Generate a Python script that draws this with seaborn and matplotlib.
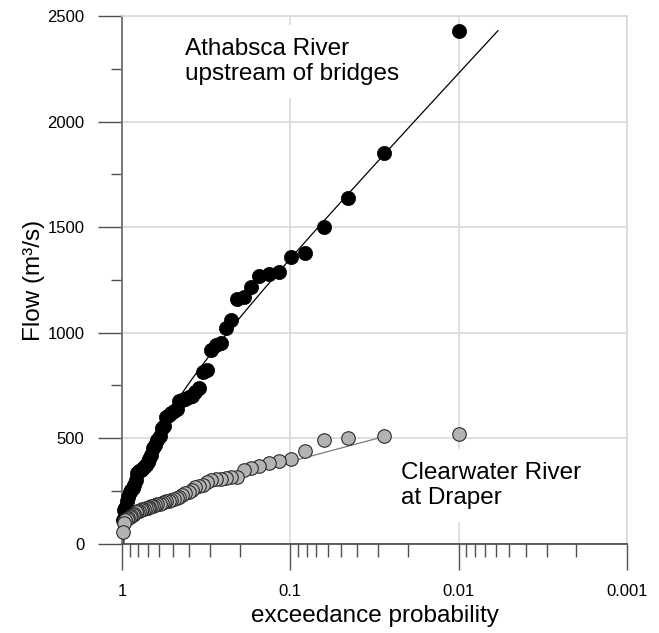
import numpy as np
import matplotlib
matplotlib.use("Agg")
import matplotlib.pyplot as plt
import seaborn as sns
from matplotlib.ticker import FixedLocator, LogLocator, FuncFormatter, MultipleLocator, NullFormatter

# ---------------- data ----------------
# exceedance probability of each ranked annual peak (rank 1 = largest)
exceed_prob = [0.00998, 0.02780, 0.04562, 0.06344, 0.08125, 0.09907, 0.11689, 0.13471,
               0.15253, 0.17035, 0.18817, 0.20599, 0.22381, 0.24163, 0.25944, 0.27726,
               0.29508, 0.31290, 0.33072, 0.34854, 0.36636, 0.38418, 0.40200, 0.41982,
               0.43763, 0.45545, 0.47327, 0.49109, 0.50891, 0.52673, 0.54455, 0.56237,
               0.58018, 0.59800, 0.61582, 0.63364, 0.65146, 0.66928, 0.68710, 0.70492,
               0.72274, 0.74056, 0.75837, 0.77619, 0.79401, 0.81183, 0.82965, 0.84747,
               0.86529, 0.88311, 0.90093, 0.91875, 0.93657, 0.95438, 0.97220, 0.99002]

athabasca_flow = [2430, 1850, 1640, 1500, 1380, 1360, 1290, 1280, 1270, 1215,
                  1170, 1160, 1060, 1020, 950, 940, 920, 825, 815, 740,
                  720, 700, 695, 685, 680, 675, 640, 630, 620, 610,
                  600, 560, 550, 510, 490, 470, 455, 420, 400, 385,
                  375, 365, 355, 350, 345, 335, 300, 280, 265, 255,
                  245, 220, 200, 170, 160, 110]

clearwater_flow = [520, 510, 500, 490, 440, 400, 392, 384, 368, 360,
                   349, 315, 315, 311, 308, 305, 302, 290, 280, 275,
                   268, 255, 245, 238, 230, 222, 218, 212, 207, 203,
                   200, 197, 193, 190, 187, 184, 180, 177, 173, 170,
                   168, 165, 163, 160, 157, 153, 148, 143, 138, 130,
                   125, 120, 115, 110, 100, 57]

# fitted Gumbel curves: (location, scale, p_start, p_end)
athabasca_fit = (509.0, 374.0, 0.99, 0.00583)
clearwater_fit = (186.0, 90.0, 0.99, 0.0277)

x_ticks = [1, 0.1, 0.01, 0.001]
y_major = 500
y_minor = 250

label_athabasca = "Athabsca River\nupstream of bridges"
label_clearwater = "Clearwater River\nat Draper"


def gumbel_curve(fit):
    loc, scale, p0, p1 = fit
    p = np.logspace(np.log10(p0), np.log10(p1), 200)
    q = loc - scale * np.log(-np.log(1.0 - p))
    return p, q


# ---------------- figure ----------------
sns.set_theme(style="white")
plt.rcParams["font.family"] = ["Liberation Sans", "DejaVu Sans"]
plt.rcParams["text.color"] = "black"

fig = plt.figure(figsize=(6.59, 6.33), dpi=100)
ax = fig.add_axes([0.1851, 0.1411, 0.7663, 0.8333])
ax.set_xscale("log")

pa, qa = gumbel_curve(athabasca_fit)
pc, qc = gumbel_curve(clearwater_fit)
sns.lineplot(x=pa, y=qa, ax=ax, color="black", linewidth=0.9, sort=False,
             estimator=None, zorder=2)
sns.lineplot(x=pc, y=qc, ax=ax, color="#7a7a7a", linewidth=0.9, sort=False,
             estimator=None, zorder=2)

sns.scatterplot(x=exceed_prob, y=athabasca_flow, ax=ax, color="black", s=105,
                edgecolor="black", linewidth=0.5, zorder=3, clip_on=False)
sns.scatterplot(x=exceed_prob, y=clearwater_flow, ax=ax, color="#b3b3b3", s=95,
                edgecolor="#2a2a2a", linewidth=0.8, zorder=4, clip_on=False)

ax.set_xlim(1, 0.001)
ax.set_ylim(0, 2500)

ax.xaxis.set_major_locator(FixedLocator(x_ticks))
ax.xaxis.set_minor_locator(LogLocator(base=10, subs=np.arange(2, 10)))
ax.xaxis.set_major_formatter(FuncFormatter(lambda v, pos: f"{v:g}"))
ax.xaxis.set_minor_formatter(NullFormatter())
ax.yaxis.set_major_locator(MultipleLocator(y_major))
ax.yaxis.set_minor_locator(MultipleLocator(y_minor))

tick_col = "#505050"
ax.tick_params(axis="x", which="major", direction="out", length=19, width=1,
               color=tick_col, pad=10, labelsize=12, labelcolor="black")
ax.tick_params(axis="x", which="minor", direction="out", length=9.5, width=1,
               color=tick_col)
ax.tick_params(axis="y", which="major", direction="out", length=17, width=1,
               color=tick_col, pad=10, labelsize=12, labelcolor="black")
ax.tick_params(axis="y", which="minor", direction="out", length=8, width=1,
               color=tick_col)
ax.tick_params(bottom=True, left=True, which="both")

ax.grid(True, which="major", color="#d9d9d9", linewidth=1.2)
ax.set_axisbelow(True)

ax.spines["left"].set_color("#707070")
ax.spines["left"].set_linewidth(1.3)
ax.spines["bottom"].set_color("#505050")
ax.spines["bottom"].set_linewidth(1.3)
for s in ("top", "right"):
    ax.spines[s].set_color("#d9d9d9")
    ax.spines[s].set_linewidth(1.2)

ax.set_xlabel("exceedance probability", fontsize=17.5, labelpad=4, color="black")
ax.set_ylabel("Flow (m³/s)", fontsize=17.5, labelpad=2, color="black")

box = dict(facecolor="white", edgecolor="none", pad=9.5)
ax.text(0.422, 2395, label_athabasca, fontsize=17.5, ha="left", va="top",
        bbox=box, zorder=1, linespacing=1.15, color="black")
ax.text(0.0221, 385, label_clearwater, fontsize=17.5, ha="left", va="top",
        bbox=box, zorder=1, linespacing=1.15, color="black")

fig.savefig("out.png", dpi=100)
